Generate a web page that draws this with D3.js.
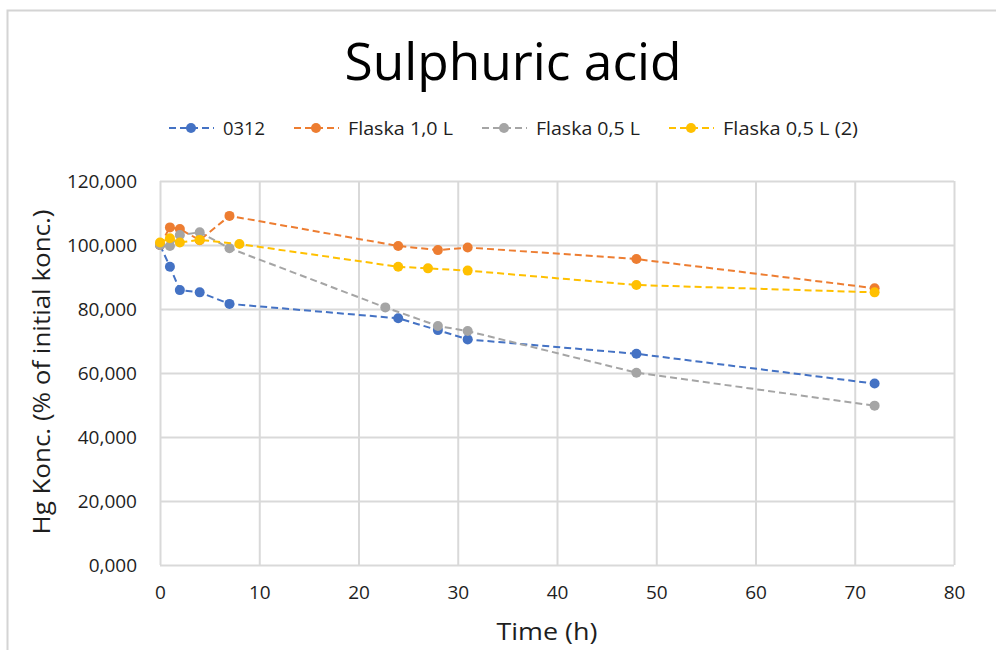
<!DOCTYPE html>
<html>
<head>
<meta charset="utf-8">
<script src="https://cdn.jsdelivr.net/npm/d3@7/dist/d3.min.js"></script>
<style>
    html, body { margin: 0; padding: 0; background: #fff; }
    svg { display: block; font-family: "Open Sans", sans-serif; }
</style>
</head>
<body>
<div id="chart"></div>
<script>
'use strict';

// Values (time in h, Hg konc. in % of initial konc.).
var seriesNames = ['0312', 'Flaska 1,0 L', 'Flaska 0,5 L', 'Flaska 0,5 L (2)'];

var time0312 = [0, 1, 2, 4, 7, 24, 28, 31, 48, 72];
var konc0312 = [100, 93.2, 85.9, 85.2, 81.6, 77.1, 73.4, 70.5, 66.0, 56.7];

var timeFlaska10 = [0, 1, 2, 4, 7, 24, 28, 31, 48, 72];
var koncFlaska10 = [100, 105.5, 105.0, 101.5, 109.1, 99.7, 98.4, 99.2, 95.6, 86.5];

var timeFlaska05 = [0, 1, 2, 4, 7, 22.7, 28, 31, 48, 72];
var koncFlaska05 = [100, 99.7, 103.1, 104.0, 99.0, 80.5, 74.7, 73.1, 60.1, 49.8];

var timeFlaska05b = [0, 1, 2, 4, 8, 24, 27, 31, 48, 72];
var koncFlaska05b = [100.8, 102.1, 100.8, 101.6, 100.3, 93.2, 92.7, 92.0, 87.5, 85.2];

var xTicks = [0, 10, 20, 30, 40, 50, 60, 70, 80];
var yTicks = [0, 20, 40, 60, 80, 100, 120];

var colors = ['#4472c4', '#ed7d31', '#a5a5a5', '#ffc000'];

var seriesTimes = [time0312, timeFlaska10, timeFlaska05, timeFlaska05b];
var seriesKonc  = [konc0312, koncFlaska10, koncFlaska05, koncFlaska05b];

var width   = 996,
    height  = 650,
    margin  = {top: 181, right: 42, bottom: 85, left: 160},
    innerW  = width - margin.left - margin.right,
    innerH  = height - margin.top - margin.bottom,
    textCol = '#1e1e1e',
    gridCol = '#d9d9d9';

// Squeeze text to a given width, the original uses a narrow font (Calibri).
function fitText(sel, len) {
    return sel.attr('textLength', len).attr('lengthAdjust', 'spacingAndGlyphs');
}

var svg = d3.select('#chart').append('svg')
    .attr('width', width)
    .attr('height', height);

// Chart frame (cut off at the right and bottom in the original).
svg.append('path')
    .attr('d', 'M7.5,' + height + 'V10.5H' + width)
    .attr('fill', 'none')
    .attr('stroke', '#d4d4d4')
    .attr('stroke-width', 2);

// Title.
fitText(svg.append('text')
    .attr('x', 513)
    .attr('y', 80)
    .attr('text-anchor', 'middle')
    .attr('font-size', 52)
    .attr('fill', '#000')
    .text('Sulphuric acid'), 337);

var x = d3.scaleLinear()
    .domain([xTicks[0], xTicks[xTicks.length - 1]])
    .range([0, innerW]);

var y = d3.scaleLinear()
    .domain([yTicks[0], yTicks[yTicks.length - 1]])
    .range([innerH, 0]);

var vis = svg.append('g')
    .attr('transform', 'translate(' + margin.left + ',' + margin.top + ')');

// Draw the grid.
vis.append('g')
    .attr('class', 'grid')
    .call(d3.axisLeft(y).tickValues(yTicks).tickSize(-innerW).tickFormat(''));

vis.append('g')
    .attr('class', 'grid')
    .attr('transform', 'translate(0,' + innerH + ')')
    .call(d3.axisBottom(x).tickValues(xTicks).tickSize(-innerH).tickFormat(''));

vis.selectAll('.grid path, .grid text').remove();
vis.selectAll('.grid line').attr('stroke', gridCol).attr('stroke-width', 2);

// Axes labels.
vis.append('g')
    .attr('class', 'axis')
    .call(d3.axisLeft(y).tickValues(yTicks).tickSize(0).tickPadding(23)
        .tickFormat(function (d) {
            return d.toFixed(3).replace('.', ',');
        }));

vis.append('g')
    .attr('class', 'axis')
    .attr('transform', 'translate(0,' + innerH + ')')
    .call(d3.axisBottom(x).tickValues(xTicks).tickSize(0).tickPadding(21));

vis.selectAll('.axis path').remove();
vis.selectAll('.axis text')
    .attr('font-family', '"Open Sans", sans-serif')
    .attr('font-size', 19)
    .attr('fill', textCol);

// Series: dashed line first, then the markers.
var line = d3.line()
    .x(function (d) { return x(d.t); })
    .y(function (d) { return y(d.v); });

seriesNames.forEach(function (name, i) {
    var pts = seriesTimes[i].map(function (t, j) {
        return {t: t, v: seriesKonc[i][j]};
    });

    var g = vis.append('g').attr('class', 'series');

    g.append('path')
        .datum(pts)
        .attr('d', line)
        .attr('fill', 'none')
        .attr('stroke', colors[i])
        .attr('stroke-width', 2)
        .attr('stroke-dasharray', '7,4');

    g.selectAll('circle')
        .data(pts)
        .enter().append('circle')
        .attr('cx', function (d) { return x(d.t); })
        .attr('cy', function (d) { return y(d.v); })
        .attr('r', 5)
        .attr('fill', colors[i]);
});

// Axis titles.
fitText(svg.append('text')
    .attr('x', 547)
    .attr('y', 640)
    .attr('text-anchor', 'middle')
    .attr('font-size', 24)
    .attr('fill', textCol)
    .text('Time (h)'), 101);

fitText(svg.append('text')
    .attr('transform', 'translate(50,372) rotate(-90)')
    .attr('text-anchor', 'middle')
    .attr('font-size', 24)
    .attr('fill', textCol)
    .text('Hg Konc. (% of initial konc.)'), 325);

// Legend.
var legendText = [42, 105, 104, 135],
    lx = 168,
    ly = 128;

seriesNames.forEach(function (name, i) {
    var item = svg.append('g').attr('transform', 'translate(' + lx + ',' + ly + ')');

    item.append('line')
        .attr('x1', 0)
        .attr('x2', 46)
        .attr('stroke', colors[i])
        .attr('stroke-width', 2)
        .attr('stroke-dasharray', '7,4')
        .attr('stroke-dashoffset', -1);

    item.append('circle')
        .attr('cx', 23)
        .attr('r', 5)
        .attr('fill', colors[i]);

    fitText(item.append('text')
        .attr('x', 55)
        .attr('y', 6.5)
        .attr('font-size', 18)
        .attr('fill', textCol)
        .text(name), legendText[i]);

    lx += 55 + legendText[i] + 28;
});
</script>
</body>
</html>
